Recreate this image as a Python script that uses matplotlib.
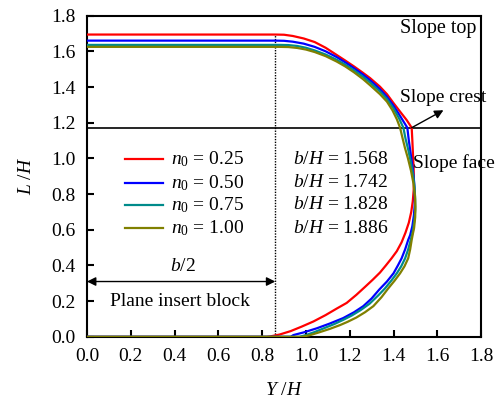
import matplotlib
matplotlib.use("Agg")
import matplotlib.pyplot as plt

plt.rcParams['font.family'] = ['Liberation Serif', 'DejaVu Serif']
plt.rcParams['mathtext.fontset'] = 'custom'
plt.rcParams['mathtext.rm'] = 'Liberation Serif'
plt.rcParams['mathtext.it'] = 'Liberation Serif:italic'

# ---- data ----
n0_labels = ["0.25", "0.50", "0.75", "1.00"]
bH_labels = ["1.568", "1.742", "1.828", "1.886"]
colors = ["#ff0000", "#0000ff", "#008b8b", "#808000"]

red_x = [0.0, 0.86, 0.90, 0.94, 0.99, 1.04, 1.09, 1.14, 1.18, 1.22, 1.26, 1.293, 1.338, 1.37,
         1.40, 1.43, 1.46, 1.483,
         1.486, 1.489, 1.492, 1.493, 1.492, 1.488, 1.481, 1.47, 1.455, 1.437, 1.415, 1.391,
         1.365, 1.338, 1.305, 1.27, 1.23, 1.186, 1.14, 1.09, 1.034, 0.98, 0.93, 0.88, 0.84,
         0.82, 0.0]
red_y = [1.694, 1.694, 1.693, 1.686, 1.672, 1.652, 1.620, 1.580, 1.548, 1.515, 1.480, 1.450, 1.402, 1.36,
         1.31, 1.262, 1.215, 1.172,
         1.10, 1.02, 0.94, 0.87, 0.82, 0.76, 0.70, 0.64, 0.585, 0.53, 0.48, 0.44,
         0.40, 0.36, 0.32, 0.28, 0.235, 0.19, 0.158, 0.122, 0.086, 0.057, 0.032, 0.013, 0.003,
         0.0, 0.0]

blue_x = [0.0, 0.86, 0.90, 0.94, 0.99, 1.04, 1.09, 1.14, 1.18, 1.22, 1.26, 1.293, 1.338, 1.37,
          1.40, 1.43, 1.463,
          1.47, 1.478, 1.487, 1.494, 1.497, 1.497, 1.493, 1.486, 1.476, 1.467, 1.453, 1.437,
          1.42, 1.40, 1.37, 1.335, 1.30, 1.262, 1.22, 1.17, 1.11, 1.05, 0.99, 0.943, 0.93, 0.0]
blue_y = [1.660, 1.660, 1.659, 1.654, 1.643, 1.625, 1.600, 1.568, 1.538, 1.505, 1.470, 1.438, 1.388, 1.345,
          1.295, 1.238, 1.172,
          1.10, 1.03, 0.95, 0.87, 0.80, 0.74, 0.68, 0.62, 0.57, 0.543, 0.49, 0.44,
          0.40, 0.356, 0.31, 0.265, 0.215, 0.172, 0.138, 0.105, 0.075, 0.048, 0.025, 0.01, 0.0, 0.0]

teal_x = [0.0, 0.88, 0.92, 0.96, 1.0, 1.04, 1.09, 1.14, 1.18, 1.22, 1.26, 1.293, 1.338, 1.37,
          1.40, 1.425, 1.445,
          1.455, 1.467, 1.479, 1.489, 1.496, 1.499, 1.499, 1.495, 1.488, 1.478, 1.467, 1.453,
          1.435, 1.415, 1.39, 1.36, 1.33, 1.29, 1.25, 1.21, 1.17, 1.13, 1.08, 1.04, 1.0, 0.97, 0.0]
teal_y = [1.636, 1.636, 1.635, 1.630, 1.620, 1.605, 1.582, 1.553, 1.525, 1.493, 1.458, 1.425, 1.375, 1.333,
          1.28, 1.225, 1.172,
          1.11, 1.05, 0.98, 0.91, 0.84, 0.77, 0.71, 0.65, 0.59, 0.54, 0.49, 0.44,
          0.395, 0.356, 0.315, 0.27, 0.232, 0.185, 0.15, 0.12, 0.095, 0.072, 0.047, 0.027, 0.01, 0.0, 0.0]

olive_x = [0.0, 0.88, 0.92, 0.96, 1.0, 1.04, 1.09, 1.14, 1.18, 1.22, 1.26, 1.293, 1.338, 1.37,
           1.395, 1.415, 1.430,
           1.44, 1.452, 1.466, 1.48, 1.491, 1.498, 1.500, 1.499, 1.494, 1.488, 1.483, 1.476, 1.467,
           1.45, 1.430, 1.405, 1.375, 1.345, 1.308, 1.27, 1.23, 1.19, 1.156, 1.11, 1.06, 1.02,
           0.99, 0.98, 0.0]
olive_y = [1.625, 1.625, 1.624, 1.619, 1.610, 1.596, 1.573, 1.543, 1.515, 1.482, 1.445, 1.41, 1.36, 1.318,
           1.27, 1.22, 1.172,
           1.12, 1.06, 1.0, 0.93, 0.86, 0.79, 0.73, 0.67, 0.61, 0.575, 0.543, 0.49, 0.44,
           0.395, 0.356, 0.315, 0.27, 0.222, 0.172, 0.138, 0.108, 0.084, 0.066, 0.045, 0.025, 0.01,
           0.002, 0.0, 0.0]

series_x = [red_x, blue_x, teal_x, olive_x]
series_y = [red_y, blue_y, teal_y, olive_y]

crest_level = 1.172
half_b = 0.86
x_ticks = [0.0, 0.2, 0.4, 0.6, 0.8, 1.0, 1.2, 1.4, 1.6, 1.8]
y_ticks = [0.0, 0.2, 0.4, 0.6, 0.8, 1.0, 1.2, 1.4, 1.6, 1.8]

# ---- figure ----
fig = plt.figure(figsize=(4.97, 4.01), dpi=100)
ax = fig.add_axes([0.175, 0.160, 0.793, 0.801])

ax.set_xlim(0, 1.8)
ax.set_ylim(0, 1.8)

# crest level line and dotted vertical
ax.plot([0, 1.8], [crest_level, crest_level], color='black', lw=1.2, zorder=2)
ax.plot([half_b, half_b], [0, red_y[0]], color='black', lw=1.0, ls=(0, (1, 1)), zorder=2)

for xs, ys, c in zip(series_x, series_y, colors):
    ax.plot(xs, ys, color=c, lw=1.6, zorder=3, solid_joinstyle='round', solid_capstyle='butt')

# legend-like rows
rows = [0.995, 0.864, 0.739, 0.608]
for r, c, n, bh in zip(rows, colors, n0_labels, bH_labels):
    ax.plot([0.174, 0.349], [r, r], color=c, lw=1.6)
    ax.text(0.386, r, r"$n_0$ = " + n, fontsize=14, va='center', ha='left')
    ax.text(0.943, r, r"$b$/$H$ = " + bh, fontsize=14, va='center', ha='left')

# annotations
ax.text(1.43, 1.73, "Slope top", fontsize=14.5, va='center', ha='left')
ax.text(1.43, 1.34, "Slope crest", fontsize=14, va='center', ha='left', clip_on=False)
ax.text(1.49, 0.974, "Slope face", fontsize=14, va='center', ha='left', clip_on=False)
ax.annotate("", xy=(1.628, 1.27), xytext=(1.483, crest_level),
            arrowprops=dict(arrowstyle='-|>', color='black', lw=1.0,
                            mutation_scale=13, shrinkA=0, shrinkB=0))
ax.annotate("", xy=(0.0, 0.31), xytext=(half_b, 0.31),
            arrowprops=dict(arrowstyle='<|-|>', color='black', lw=1.0,
                            mutation_scale=13, shrinkA=0, shrinkB=0))
ax.text(0.44, 0.395, r"$b$/2", fontsize=14, va='center', ha='center')
ax.text(0.425, 0.20, "Plane insert block", fontsize=14, va='center', ha='center')

ax.set_xticks(x_ticks)
ax.set_yticks(y_ticks)
ax.set_xticklabels([f"{v:.1f}" for v in x_ticks])
ax.set_yticklabels([f"{v:.1f}" for v in y_ticks])
ax.tick_params(direction='in', length=5, width=1.5, labelsize=14, pad=8)
for s in ax.spines.values():
    s.set_linewidth(1.5)

ax.set_xlabel(r"$Y$ /$H$", fontsize=14, labelpad=12)
ax.set_ylabel(r"$L$ /$H$", fontsize=14, labelpad=12)

fig.savefig("out.png", dpi=100)
